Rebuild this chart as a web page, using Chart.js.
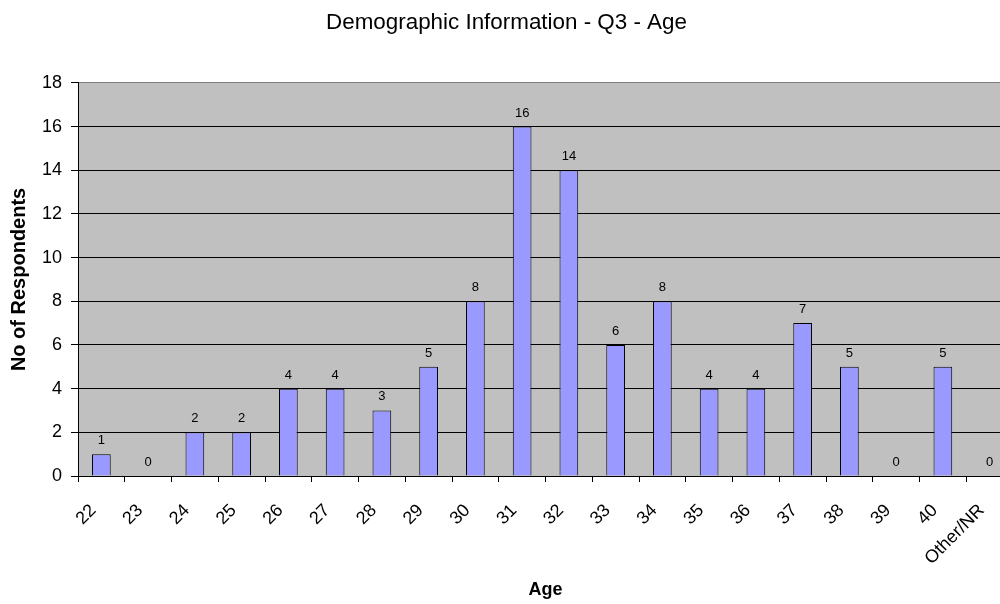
<!DOCTYPE html>
<html>
<head>
<meta charset="utf-8">
<script src="https://cdn.jsdelivr.net/npm/chart.js@4/dist/chart.umd.min.js"></script>
<style>
  html, body { margin: 0; padding: 0; background: #fff; overflow: hidden; }
  #wrap { width: 1000px; height: 604px; overflow: hidden; }
  canvas { display: block; }
</style>
</head>
<body>
<div id="wrap"><canvas id="c" width="1013" height="604"></canvas></div>
<script>
// Respondents per age group
const ageGroups = ['22', '23', '24', '25', '26', '27', '28', '29', '30', '31',
                   '32', '33', '34', '35', '36', '37', '38', '39', '40', 'Other/NR'];
const respondents = [1, 0, 2, 2, 4, 4, 3, 5, 8, 16, 14, 6, 8, 4, 4, 7, 5, 0, 5, 0];
const yTicks = [0, 2, 4, 6, 8, 10, 12, 14, 16, 18];

const FONT = "'Liberation Sans', Arial, Helvetica, sans-serif";

// Grey plot background
const plotArea = {
  id: 'plotArea',
  beforeDraw(chart) {
    const { ctx, chartArea: a } = chart;
    ctx.save();
    ctx.fillStyle = '#C0C0C0';
    ctx.fillRect(a.left, a.top, a.right - a.left, a.bottom - a.top);
    ctx.restore();
  }
};

// Value printed above each bar
const valueLabels = {
  id: 'valueLabels',
  afterDatasetsDraw(chart) {
    const { ctx } = chart;
    const meta = chart.getDatasetMeta(0);
    ctx.save();
    ctx.font = '13px ' + FONT;
    ctx.fillStyle = '#000';
    ctx.textAlign = 'center';
    ctx.textBaseline = 'alphabetic';
    meta.data.forEach((bar, i) => {
      ctx.fillText(String(respondents[i]), bar.x, bar.y - 10);
    });
    ctx.restore();
  }
};

new Chart(document.getElementById('c'), {
  type: 'bar',
  data: {
    labels: ageGroups,
    datasets: [{
      data: respondents,
      backgroundColor: '#9999FF',
      borderColor: '#000000',
      borderWidth: 1,
      categoryPercentage: 1,
      barPercentage: 0.4
    }]
  },
  options: {
    responsive: false,
    animation: false,
    layout: { padding: { left: 0, right: 0, top: 0, bottom: 0 } },
    plugins: {
      legend: { display: false },
      tooltip: { enabled: false },
      title: {
        display: true,
        text: 'Demographic Information - Q3 - Age',
        color: '#000',
        font: { family: FONT, size: 22.4, weight: 'normal' },
        padding: { top: 9, bottom: 47 }
      }
    },
    scales: {
      x: {
        offset: true,
        grid: {
          display: true,
          offset: true,
          drawOnChartArea: false,
          drawTicks: true,
          tickLength: 6,
          color: '#000'
        },
        border: { display: true, color: '#000', width: 1 },
        ticks: {
          color: '#000',
          font: { family: FONT, size: 18 },
          minRotation: 45,
          maxRotation: 45,
          autoSkip: false,
          padding: 18,
          labelOffset: -8
        },
        title: {
          display: true,
          text: 'Age',
          color: '#000',
          font: { family: FONT, size: 18, weight: 'bold' },
          padding: { top: 0, bottom: 3 }
        },
        afterFit(scale) {
          scale.height = 128;
          scale.paddingLeft = 0;
          scale.paddingRight = 0;
        }
      },
      y: {
        min: 0,
        max: 18,
        afterBuildTicks(scale) { scale.ticks = yTicks.map(v => ({ value: v })); },
        grid: {
          color: ctx => (ctx.tick && ctx.tick.value === 18 ? '#808080' : '#000'),
          tickColor: '#000',
          drawTicks: true,
          tickLength: 7
        },
        border: { display: true, color: '#000', width: 1 },
        ticks: {
          color: '#000',
          font: { family: FONT, size: 18 },
          padding: 9
        },
        title: {
          display: true,
          text: 'No of Respondents',
          color: '#000',
          font: { family: FONT, size: 20, weight: 'bold' },
          padding: { top: 7, bottom: 0 }
        },
        afterFit(scale) { scale.width = 78; }
      }
    }
  },
  plugins: [plotArea, valueLabels]
});
</script>
</body>
</html>
